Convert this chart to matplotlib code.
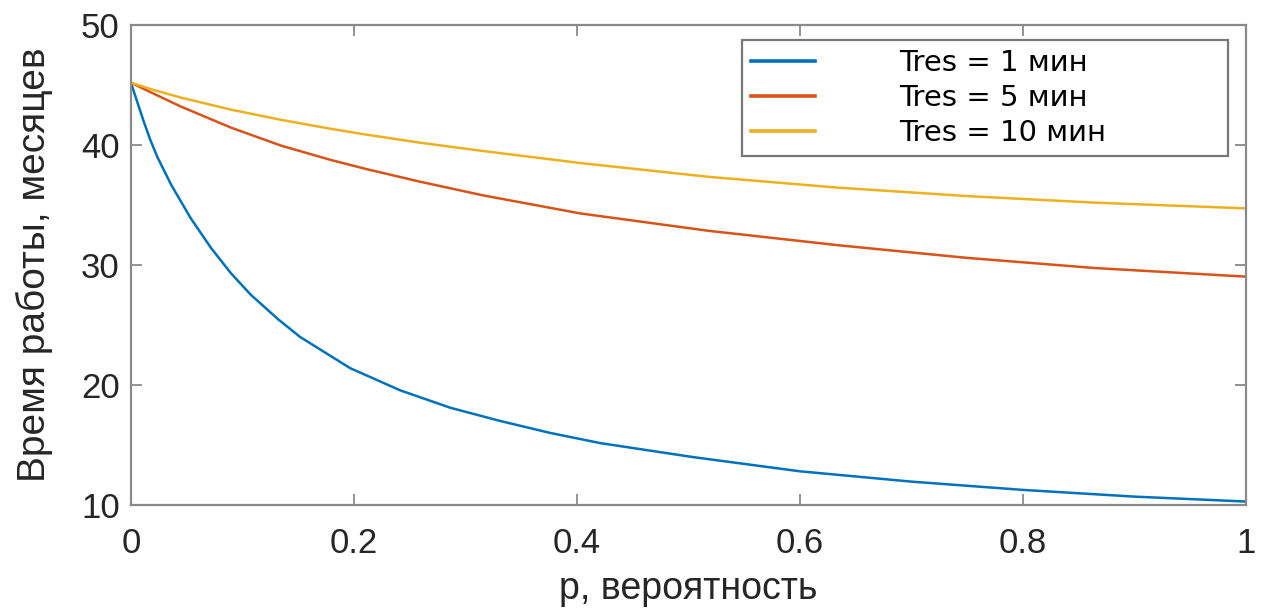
import matplotlib
matplotlib.use("Agg")
import matplotlib.pyplot as plt

# Data
p_blue = [0.0, 0.003, 0.006, 0.0117, 0.0175, 0.0237, 0.036, 0.0536, 0.072, 0.0898,
          0.1077, 0.1317, 0.1517, 0.1966, 0.2415, 0.2864, 0.331, 0.376, 0.421, 0.503,
          0.6, 0.7, 0.8, 0.9, 1.0]
t_blue = [45.2, 44.35, 43.5, 41.9, 40.4, 39.0, 36.7, 33.9, 31.4, 29.3,
          27.5, 25.5, 24.0, 21.4, 19.55, 18.1, 17.0, 16.0, 15.15, 14.0,
          12.8, 11.94, 11.25, 10.69, 10.28]

p_red = [0.0, 0.02, 0.045, 0.0898, 0.1347, 0.1795, 0.211, 0.259, 0.316, 0.403,
         0.518, 0.634, 0.749, 0.864, 1.0]
t_red = [45.2, 44.3, 43.2, 41.45, 39.95, 38.75, 38.0, 36.95, 35.8, 34.3,
         32.85, 31.65, 30.6, 29.75, 29.03]

p_yel = [0.0, 0.02, 0.045, 0.0898, 0.1347, 0.1795, 0.211, 0.259, 0.316, 0.403,
         0.518, 0.634, 0.749, 0.864, 1.0]
t_yel = [45.2, 44.6, 43.95, 42.95, 42.1, 41.35, 40.87, 40.2, 39.5, 38.5,
         37.35, 36.45, 35.75, 35.2, 34.72]

labels = ["Tres = 1 мин", "Tres = 5 мин", "Tres = 10 мин"]
colors = ["#0072BD", "#D95319", "#EDB120"]

xticks = [0, 0.2, 0.4, 0.6, 0.8, 1]
xticklabels = ["0", "0.2", "0.4", "0.6", "0.8", "1"]
yticks = [10, 20, 30, 40, 50]

fig = plt.figure(figsize=(12.7, 6.12), dpi=100)
ax = fig.add_axes([0.1031, 0.175, 0.878, 0.784])

ax.plot(p_blue, t_blue, color=colors[0], lw=1.8, label=labels[0],
        solid_joinstyle="round")
ax.plot(p_red, t_red, color=colors[1], lw=1.8, label=labels[1],
        solid_joinstyle="round")
ax.plot(p_yel, t_yel, color=colors[2], lw=1.8, label=labels[2],
        solid_joinstyle="round")

ax.set_xlim(0, 1)
ax.set_ylim(10, 50)
ax.set_xticks(xticks)
ax.set_xticklabels(xticklabels)
ax.set_yticks(yticks)

fam = ["Liberation Sans", "DejaVu Sans"]
for lab in ax.get_xticklabels() + ax.get_yticklabels():
    lab.set_fontfamily(fam)
    lab.set_fontsize(25)

ax.tick_params(direction="in", length=8, width=1.2, color="#808080",
               labelcolor="#262626", top=True, right=True)
ax.tick_params(axis="x", pad=16)
ax.tick_params(axis="y", pad=8)
for s in ax.spines.values():
    s.set_color("#8a8a8a")
    s.set_linewidth(1.6)

ax.set_xlabel("р, вероятность", fontsize=27, color="#262626",
              family=fam, labelpad=8)
ax.set_ylabel("Время работы, месяцев", fontsize=28, color="#262626",
              family=fam, labelpad=20)

leg = ax.legend(loc="upper left", bbox_to_anchor=(0.548, 0.719, 0.436, 0.25),
                mode="expand", borderaxespad=0, fancybox=False, frameon=True,
                prop={"family": "DejaVu Sans", "size": 21},
                handlelength=2.2, handletextpad=2.9, labelspacing=0.25,
                borderpad=0.3)
frame = leg.get_frame()
frame.set_edgecolor("#555555")
frame.set_linewidth(1.6)
for line in leg.get_lines():
    line.set_linewidth(2.6)

fig.savefig("out.png", dpi=100)
